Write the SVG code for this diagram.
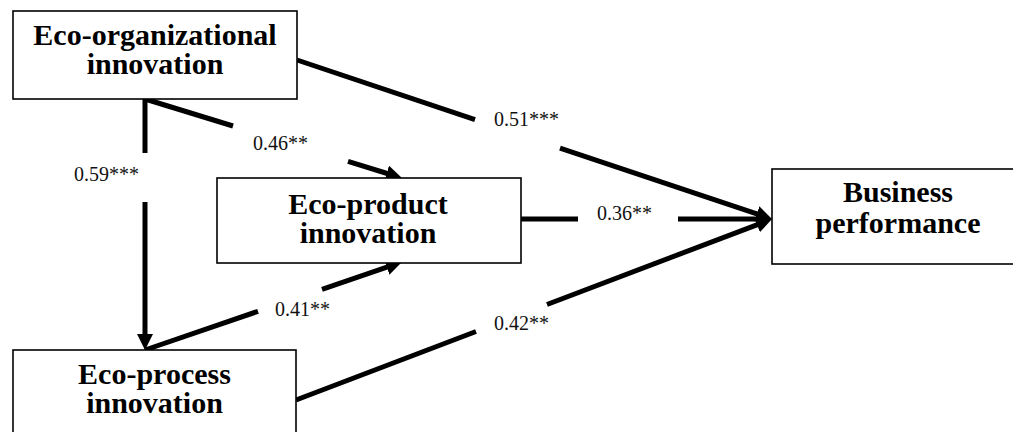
<svg xmlns="http://www.w3.org/2000/svg" width="1013" height="432" viewBox="0 0 1013 432">
<style>
.box{fill:#fff;stroke:#000;stroke-width:1.6}
.title{font-family:"Liberation Serif","Times New Roman",serif;font-weight:bold;font-size:30px;fill:#000;text-anchor:middle}
.lbl{font-family:"Liberation Serif","Times New Roman",serif;font-size:20px;fill:#111}
.ln{stroke:#000;stroke-width:5;fill:none}
.arr{marker-end:url(#ah)}
</style>
<defs>
<marker id="ah" viewBox="0 0 16 16" refX="4" refY="8" markerWidth="16" markerHeight="16" markerUnits="userSpaceOnUse" orient="auto">
<path d="M0,0 L16,8 L0,16 z" fill="#000"/>
</marker>
</defs>
<rect width="1013" height="432" fill="#fff"/>
<g id="connectors">
<line class="ln" x1="297" y1="60" x2="475" y2="119.6"/>
<line class="ln arr" x1="560" y1="148.1" x2="760.6" y2="215.2"/>
<line class="ln" x1="521" y1="219" x2="578" y2="219"/>
<line class="ln arr" x1="678" y1="219" x2="760" y2="219"/>
<line class="ln" x1="296" y1="400" x2="476" y2="331.5"/>
<line class="ln arr" x1="547" y1="304.5" x2="760.8" y2="223.3"/>
<line class="ln" x1="145" y1="99" x2="145" y2="153"/>
<line class="ln arr" x1="145" y1="202" x2="145" y2="338"/>
<line class="ln" x1="145" y1="99" x2="233" y2="126"/>
<line class="ln arr" x1="348" y1="161.4" x2="390.5" y2="174.5"/>
<line class="ln" x1="145" y1="350" x2="258" y2="311.3"/>
<line class="ln arr" x1="322" y1="289.4" x2="390.6" y2="265.9"/>
<text class="lbl" x="494" y="126">0.51***</text>
<text class="lbl" x="253" y="150">0.46**</text>
<text class="lbl" x="74" y="181">0.59***</text>
<text class="lbl" x="597" y="220">0.36**</text>
<text class="lbl" x="275" y="316">0.41**</text>
<text class="lbl" x="494" y="330">0.42**</text>
</g>
<g id="eco-organizational">
<rect class="box" x="13" y="11" width="284" height="88"/>
<text class="title" x="155" y="45">Eco-organizational</text>
<text class="title" x="155" y="74">innovation</text>
</g>
<g id="eco-product">
<rect class="box" x="217" y="178" width="304" height="85"/>
<text class="title" x="368" y="214">Eco-product</text>
<text class="title" x="368" y="243">innovation</text>
</g>
<g id="business-performance">
<rect class="box" x="772" y="169" width="252" height="95"/>
<text class="title" x="898" y="202">Business</text>
<text class="title" x="898" y="233">performance</text>
</g>
<g id="eco-process">
<rect class="box" x="13" y="350" width="283" height="100"/>
<text class="title" x="154.5" y="384">Eco-process</text>
<text class="title" x="154.5" y="413">innovation</text>
</g>
</svg>
